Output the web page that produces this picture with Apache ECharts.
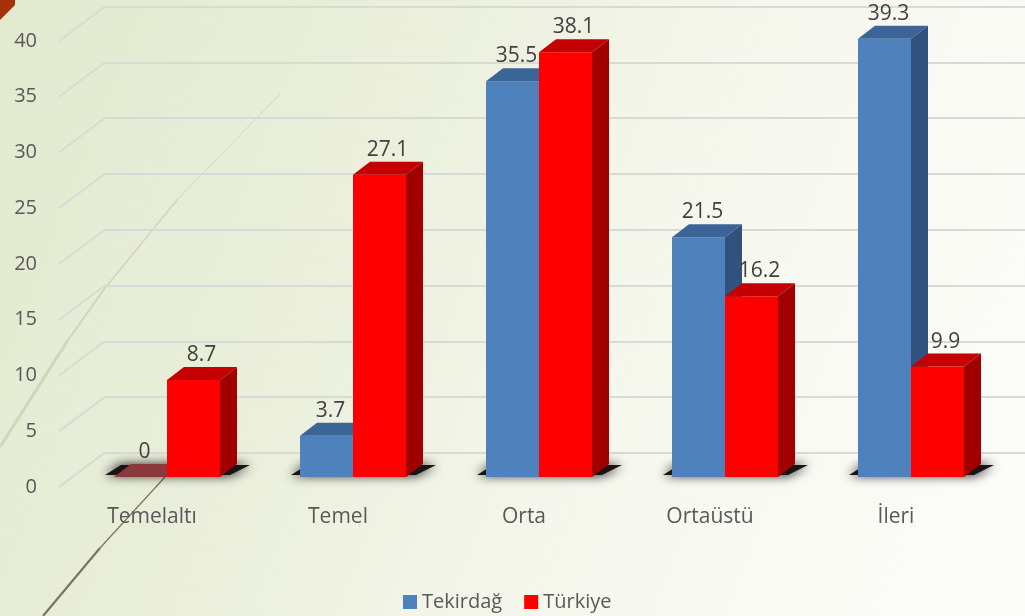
<!DOCTYPE html>
<html><head><meta charset="utf-8">
<style>html,body{margin:0;padding:0;background:#fff}#c{width:1025px;height:616px}</style>
<script src="https://cdn.jsdelivr.net/npm/echarts@6/dist/echarts.min.js"></script>
</head><body><div id="c"></div>
<script>
const categories = ['Temelaltı','Temel','Orta','Ortaüstü','İleri'];
const tekirdag = [0,3.7,35.5,21.5,39.3];
const turkiye = [8.7,27.1,38.1,16.2,9.9];
const yTicks = [0,5,10,15,20,25,30,35,40];

const FONT = '"Open Sans"';
const BAR_W = 53, SIDE_X = 17, SIDE_Y = 13;   // bar box and its depth
const FLOOR_X = 15, FLOOR_Y = 10;             // bars stand this far back on the floor
const WALL_X = 46, WALL_Y = 34.5;             // side-wall depth

function poly(points, fill, extra) {
  return { type:'polygon', shape:{points}, style:Object.assign({fill}, extra||{}) };
}
function barRenderer(side, colors, labelDx) {
  return function (params, api) {
    const v = api.value(1);
    const base = api.coord([api.value(0), 0]);
    const top = api.coord([api.value(0), v]);
    const x0 = base[0] + FLOOR_X + (side < 0 ? -BAR_W : 0);
    const x1 = x0 + BAR_W;
    const yb = base[1] - FLOOR_Y, yt = top[1] - FLOOR_Y;
    const children = [];
    const topFill = v === 0 ? '#8a3a3c' : colors.top;
    if (v > 0) {
      children.push(poly([[x1,yt],[x1+SIDE_X,yt-SIDE_Y],[x1+SIDE_X,yb-SIDE_Y],[x1,yb]], colors.side));
      children.push({type:'rect', shape:{x:x0,y:yt,width:BAR_W,height:yb-yt}, style:{fill:colors.front}});
    }
    children.push(poly([[x0,yt],[x0+SIDE_X,yt-SIDE_Y],[x1+SIDE_X,yt-SIDE_Y],[x1,yt]], topFill));
    children.push({type:'text', z2:50, style:{
      text:String(v), x:(x0+x1)/2+labelDx, y:yt-25, align:'center', verticalAlign:'middle',
      font:'21px '+FONT, fill:'#404040'}});
    return {type:'group', children};
  };
}
const chart = echarts.init(document.getElementById('c'));
chart.setOption({
  animation:false,
  backgroundColor:new echarts.graphic.LinearGradient(0,0.1,1,0.75,[
    {offset:0,color:'#e2ead0'},{offset:0.35,color:'#ebefdc'},{offset:0.65,color:'#f6f8ee'},{offset:1,color:'#fcfcf9'}]),
  textStyle:{fontFamily:FONT},
  legend:{
    data:['Tekirdağ','Türkiye'], left:398, top:587, itemWidth:14, itemHeight:14, itemGap:22,
    icon:'rect', textStyle:{fontFamily:FONT, fontSize:20, color:'#595959', padding:[0,0,0,0]}, selectedMode:false
  },
  grid:[
    {left:105, top:6.5, width:920, height:446.5},
    {left:59, top:41, width:930, height:446}
  ],
  xAxis:[
    {gridIndex:0, type:'category', data:categories, show:false},
    {gridIndex:1, type:'category', data:categories, axisLine:{show:false}, axisTick:{show:false},
      axisLabel:{margin:20, fontFamily:FONT, fontSize:21, color:'#595959'}}
  ],
  yAxis:[
    {gridIndex:0, type:'value', min:0, max:40, interval:5, axisLabel:{show:false}, axisLine:{show:false}, axisTick:{show:false},
      splitLine:{show:true, lineStyle:{color:'#d8dad6', width:2}}},
    {gridIndex:1, type:'value', min:0, max:40, interval:5, axisLine:{show:false}, axisTick:{show:false}, splitLine:{show:false},
      axisLabel:{margin:22, fontFamily:FONT, fontSize:20, color:'#595959', padding:[4,0,0,0]}}
  ],
  graphic:[
    {type:'polygon', z:0, shape:{points:[[0,0],[15,0],[15,5],[0,20]]}, style:{fill:'#a8300c'}},
    {type:'polyline', z:0, shape:{points:[[280,94],[177,200]]}, style:{stroke:'#d4d6c0', lineWidth:1, fill:null}},
    {type:'polyline', z:0, shape:{points:[[177,200],[105,288]]}, style:{stroke:'#d2d5bd', lineWidth:1.5, fill:null}},
    {type:'polyline', z:0, shape:{points:[[105,288],[68,340]]}, style:{stroke:'#d2d5bd', lineWidth:2, fill:null}},
    {type:'polyline', z:0, shape:{points:[[68,340],[0,447]]}, style:{stroke:'#d2d5bd', lineWidth:3, fill:null}},
    {type:'polyline', z:0, shape:{points:[[165,477],[100,548]]}, style:{stroke:'#7d745c', lineWidth:1.2, fill:null}},
    {type:'polyline', z:0, shape:{points:[[100,548],[43,616]]}, style:{stroke:'#7d745c', lineWidth:2.2, fill:null}}
  ],
  series:[
    {type:'custom', name:'side walls', silent:true, clip:false, xAxisIndex:1, yAxisIndex:1, z:1,
      data:yTicks.map(t=>[0,t]),
      renderItem(params, api){
        const y = api.coord([0, api.value(1)])[1];
        const x = params.coordSys.x;
        return {type:'line', shape:{x1:x,y1:y,x2:x+WALL_X,y2:y-WALL_Y}, style:{stroke:'#d8dad6', lineWidth:2}};
      }},
    {type:'custom', name:'floor shadow', silent:true, clip:false, xAxisIndex:1, yAxisIndex:1, z:2,
      data:categories.map((c,i)=>[i,0]),
      renderItem(params, api){
        const p = api.coord([api.value(0),0]);
        const cx = p[0]+FLOOR_X, y = p[1]-FLOOR_Y;
        return poly([[cx-62,y-2],[cx-46,y-12],[cx+BAR_W+30,y-12],[cx+BAR_W+10,y-2]], '#1a1414',
          {shadowBlur:12, shadowColor:'#000'});
      }},
    {type:'custom', name:'Tekirdağ', clip:false, xAxisIndex:1, yAxisIndex:1, z:3, itemStyle:{color:'#4f81bd'},
      data:tekirdag.map((v,i)=>[i,v]),
      renderItem:barRenderer(-1,{front:'#4f81bd',side:'#30527c',top:'#3b6596'},4)},
    {type:'custom', name:'Türkiye', clip:false, xAxisIndex:1, yAxisIndex:1, z:4, itemStyle:{color:'#ff0000'},
      data:turkiye.map((v,i)=>[i,v]),
      renderItem:barRenderer(1,{front:'#ff0000',side:'#a00000',top:'#c40000'},8)}
  ]
});
</script></body></html>
